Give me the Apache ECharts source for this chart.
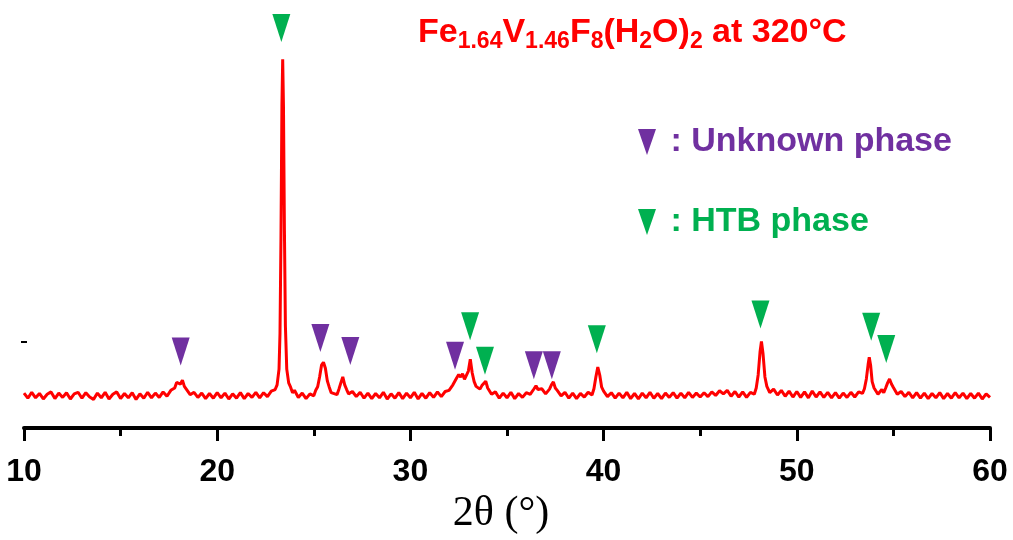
<!DOCTYPE html>
<html>
<head>
<meta charset="utf-8">
<script src="https://cdn.jsdelivr.net/npm/echarts@6/dist/echarts.min.js"></script>
<style>
    html, body { margin: 0; padding: 0; background: #fff; }
    #main { width: 1013px; height: 540px; }
</style>
</head>
<body>
<div id="main"></div>
<script>
// XRD scan, [2theta, intensity]
var scan = [
    [10.0, 8.9], [10.2, 7.6], [10.4, 9.1], [10.6, 7.7], [10.8, 8.8], [11.0, 7.4], [11.2, 8.6], [11.4, 9.2],
    [11.6, 7.5], [11.8, 8.9], [12.0, 7.8], [12.2, 9.0], [12.4, 7.4], [12.6, 8.7], [12.8, 9.1], [13.0, 7.6],
    [13.2, 9.0], [13.4, 7.9], [13.6, 7.3], [13.8, 8.9], [14.0, 7.7], [14.2, 9.1], [14.4, 7.4], [14.6, 8.6],
    [14.8, 9.2], [15.0, 7.5], [15.2, 8.8], [15.4, 7.7], [15.6, 9.0], [15.8, 7.3], [16.0, 8.7], [16.2, 7.6],
    [16.4, 9.1], [16.6, 7.7], [16.8, 8.9], [17.0, 7.8], [17.2, 9.2], [17.4, 8.1], [17.6, 9.6], [17.8, 10.2],
    [17.9, 11.6], [18.0, 12.0], [18.1, 11.2], [18.2, 12.2], [18.3, 10.6], [18.4, 9.9], [18.6, 8.5], [18.8, 9.1],
    [19.0, 7.8], [19.2, 8.9], [19.4, 7.5], [19.6, 8.8], [19.8, 7.6], [20.0, 9.0], [20.2, 7.7], [20.4, 8.9],
    [20.6, 7.4], [20.8, 8.7], [21.0, 7.6], [21.2, 9.0], [21.4, 7.5], [21.6, 8.8], [21.8, 7.8], [22.0, 9.1],
    [22.2, 7.7], [22.4, 9.0], [22.6, 8.0], [22.8, 9.4], [23.0, 9.8], [23.1, 11.0], [23.2, 15.0], [23.25, 24],
    [23.3, 48], [23.35, 82], [23.39, 93.75], [23.43, 82], [23.48, 50], [23.53, 26], [23.6, 15], [23.7, 11.5],
    [23.8, 10.4], [23.9, 9.0], [24.0, 9.6], [24.2, 7.8], [24.4, 8.9], [24.6, 7.5], [24.8, 8.7], [25.0, 8.2],
    [25.1, 9.6], [25.2, 10.5], [25.3, 13.0], [25.4, 16.0], [25.5, 16.75], [25.6, 15.2], [25.7, 12.0], [25.8, 10.4],
    [25.9, 9.0], [26.0, 9.4], [26.2, 8.5], [26.3, 9.9], [26.4, 11.5], [26.5, 13.0], [26.6, 11.0], [26.7, 9.8],
    [26.8, 8.7], [27.0, 9.3], [27.2, 8.0], [27.4, 9.1], [27.6, 7.6], [27.8, 8.9], [28.0, 7.5], [28.2, 8.8],
    [28.4, 7.7], [28.6, 9.1], [28.8, 7.4], [29.0, 8.7], [29.2, 7.6], [29.4, 9.0], [29.6, 7.5], [29.8, 8.9],
    [30.0, 7.7], [30.2, 9.1], [30.4, 7.4], [30.6, 8.8], [30.8, 7.6], [31.0, 9.0], [31.2, 7.8], [31.4, 9.2],
    [31.6, 8.0], [31.8, 9.3], [32.0, 9.6], [32.2, 11.0], [32.4, 12.8], [32.5, 13.6], [32.6, 13.0], [32.7, 13.8],
    [32.8, 12.4], [32.9, 12.6], [33.0, 14.5], [33.1, 17.5], [33.2, 14.0], [33.3, 11.8], [33.4, 10.6], [33.5, 10.9],
    [33.6, 9.9], [33.7, 10.8], [33.8, 11.0], [33.9, 11.9], [34.0, 10.2], [34.1, 9.8], [34.2, 8.6], [34.4, 9.2],
    [34.6, 7.6], [34.8, 8.9], [35.0, 7.7], [35.2, 9.1], [35.4, 7.5], [35.6, 8.8], [35.8, 7.8], [36.0, 9.0],
    [36.2, 8.6], [36.4, 10.0], [36.5, 10.75], [36.6, 9.8], [36.8, 10.0], [37.0, 8.7], [37.2, 9.9], [37.3, 11.0],
    [37.4, 11.75], [37.5, 10.2], [37.6, 9.6], [37.8, 8.2], [38.0, 9.1], [38.2, 7.6], [38.4, 8.9], [38.6, 7.5],
    [38.8, 8.8], [39.0, 7.9], [39.2, 9.1], [39.4, 8.4], [39.5, 10.0], [39.6, 13.0], [39.7, 15.5], [39.8, 13.5],
    [39.9, 10.4], [40.0, 9.4], [40.2, 8.0], [40.4, 9.0], [40.6, 7.6], [40.8, 8.9], [41.0, 7.7], [41.2, 9.1],
    [41.4, 7.5], [41.6, 8.8], [41.8, 7.4], [42.0, 8.9], [42.2, 7.7], [42.4, 9.1], [42.6, 7.6], [42.8, 8.8],
    [43.0, 7.5], [43.2, 8.9], [43.4, 7.8], [43.6, 9.0], [43.8, 7.6], [44.0, 8.9], [44.2, 7.7], [44.4, 9.1],
    [44.6, 7.8], [44.8, 8.9], [45.0, 7.9], [45.2, 9.0], [45.4, 8.0], [45.6, 9.2], [45.8, 8.3], [46.0, 9.5],
    [46.2, 8.7], [46.4, 9.6], [46.6, 8.1], [46.8, 9.3], [47.0, 7.9], [47.2, 9.2], [47.4, 7.8], [47.6, 9.1],
    [47.8, 8.6], [47.9, 10.2], [48.0, 13.5], [48.1, 19.5], [48.17, 22.0], [48.25, 19.0], [48.35, 13.0], [48.45, 10.6],
    [48.6, 9.0], [48.8, 9.9], [49.0, 8.4], [49.2, 9.6], [49.4, 8.1], [49.6, 9.4], [49.8, 7.9], [50.0, 9.3],
    [50.2, 7.8], [50.4, 9.2], [50.6, 7.7], [50.8, 9.4], [51.0, 7.9], [51.2, 9.2], [51.4, 7.8], [51.6, 9.1],
    [51.8, 7.7], [52.0, 9.0], [52.2, 7.6], [52.4, 8.9], [52.6, 7.8], [52.8, 9.1], [53.0, 7.9], [53.2, 9.2],
    [53.4, 8.8], [53.5, 10.0], [53.6, 12.5], [53.7, 16.5], [53.75, 18.0], [53.82, 16.0], [53.9, 11.8], [54.0, 10.2],
    [54.2, 8.6], [54.4, 9.8], [54.5, 9.0], [54.6, 10.2], [54.7, 11.5], [54.8, 12.5], [54.9, 11.2], [55.0, 10.3],
    [55.2, 8.6], [55.4, 9.3], [55.6, 8.0], [55.8, 9.1], [56.0, 7.7], [56.2, 9.0], [56.4, 7.6], [56.6, 8.9],
    [56.8, 7.5], [57.0, 8.8], [57.2, 7.7], [57.4, 9.0], [57.6, 7.5], [57.8, 8.8], [58.0, 7.6], [58.2, 9.0],
    [58.4, 7.7], [58.6, 8.9], [58.8, 7.5], [59.0, 8.8], [59.2, 7.6], [59.4, 8.9], [59.6, 7.4], [59.8, 8.7],
    [60.0, 7.8]
];

// peak markers (triangle centre)
var unknownMarks = [[18.11, 19.5], [25.34, 22.9], [26.89, 19.6], [32.31, 18.4], [36.39, 16.0], [37.32, 16.0]];
var htbMarks = [[23.32, 101.7], [33.09, 25.9], [33.86, 17.1], [39.65, 22.6], [48.12, 28.9], [53.85, 25.75], [54.63, 20.1]];

var xTicks = [10, 20, 30, 40, 50, 60];

var tri = 'path://M0,0L18,0L9,28Z';

var myChart = echarts.init(document.getElementById('main'));
var option = {
    animation: false,
    backgroundColor: '#fff',
    title: {
        left: 418,
        top: 16,
        padding: 0,
        text: '{m|Fe}{s|1.64}{m|V}{s|1.46}{m|F}{s|8}{m|(H}{s|2}{m|O)}{s|2}{m| at 320°C}',
        textStyle: {
            rich: {
                m: { fontSize: 34, fontWeight: 'bold', fontFamily: 'Liberation Sans', color: '#ff0000', lineHeight: 34, verticalAlign: 'top' },
                s: { fontSize: 23, fontWeight: 'bold', fontFamily: 'Liberation Sans', color: '#ff0000', lineHeight: 23, padding: [17, 0, 0, 0] }
            }
        }
    },
    legend: {
        orient: 'vertical',
        left: 638,
        top: 125,
        padding: 0,
        itemGap: 46,
        itemWidth: 18,
        itemHeight: 26,
        icon: 'path://M0,0L18,0L9,26Z',
        selectedMode: false,
        formatter: ' : {name}',
        textStyle: { fontSize: 34, fontWeight: 'bold', fontFamily: 'Liberation Sans', lineHeight: 34 },
        data: [
            { name: 'Unknown phase', itemStyle: { opacity: 1 }, textStyle: { color: '#7030a0' } },
            { name: 'HTB phase', itemStyle: { opacity: 1 }, textStyle: { color: '#00b050' } }
        ]
    },
    grid: { left: 24, right: 23, top: 15, bottom: 105 },
    xAxis: {
        type: 'value',
        min: xTicks[0],
        max: xTicks[xTicks.length - 1],
        interval: 10,
        splitLine: { show: false },
        axisLine: { lineStyle: { color: '#000', width: 4 } },
        axisTick: { inside: false, length: 13, lineStyle: { color: '#000', width: 3 } },
        minorTick: { show: true, splitNumber: 2, length: 8, lineStyle: { color: '#000', width: 3 } },
        axisLabel: { margin: 28, fontSize: 32, fontWeight: 'bold', fontFamily: 'Liberation Sans', color: '#000' },
        name: '2θ (°)',
        nameLocation: 'middle',
        nameGap: 64,
        nameTextStyle: { fontSize: 42, fontFamily: 'Liberation Serif', color: '#000', padding: [0, 12, 0, 0] }
    },
    yAxis: {
        type: 'value',
        min: 0,
        max: 105,
        show: false
    },
    series: [
        {
            name: 'pattern',
            type: 'line',
            data: scan,
            showSymbol: false,
            lineStyle: { color: '#ff0000', width: 3 },
            z: 2
        },
        {
            name: 'Unknown phase',
            type: 'scatter',
            data: unknownMarks,
            symbol: tri,
            symbolSize: [18, 28],
            itemStyle: { color: '#7030a0', opacity: 1 },
            z: 3
        },
        {
            name: 'HTB phase',
            type: 'scatter',
            data: htbMarks,
            symbol: tri,
            symbolSize: [18, 28],
            itemStyle: { color: '#00b050', opacity: 1 },
            z: 3
        }
    ],
    // leftover y tick seen at the left edge
    graphic: [{
        type: 'line',
        shape: { x1: 21, y1: 342, x2: 27, y2: 342 },
        style: { stroke: '#000', lineWidth: 2 }
    }]
};

myChart.setOption(option);
</script>
</body>
</html>
